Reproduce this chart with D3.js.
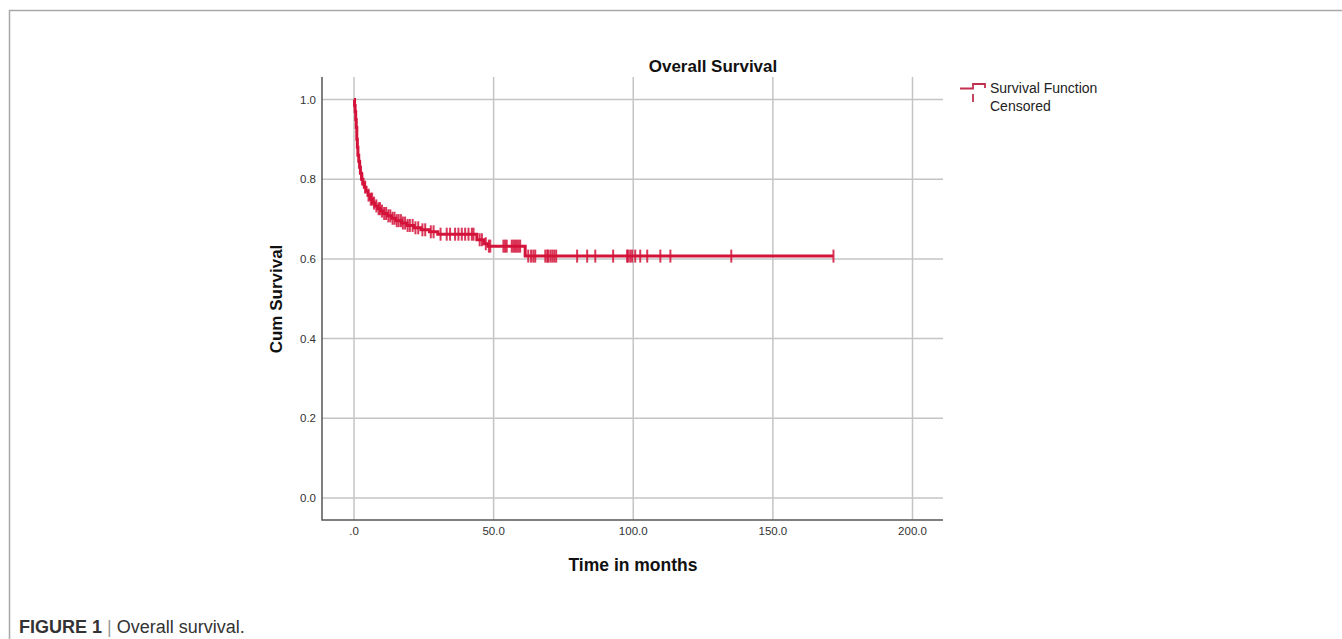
<!DOCTYPE html>
<html>
<head>
<meta charset="utf-8">
<script src="https://cdn.jsdelivr.net/npm/d3@7"></script>
<style>
  body { margin: 0; background: #fff; }
  svg { display: block; font-family: "Liberation Sans", Arial, sans-serif; }
</style>
</head>
<body>
<svg id="chart" width="1342" height="639"></svg>
<script>
// Kaplan-Meier steps: event times (months) and survival after each event
const eventTimes = [0, 0.2, 0.4, 0.6, 0.8, 1.0, 1.2, 1.4, 1.7, 2.0, 2.3, 2.7, 3.2, 3.7, 4.3, 5.0, 5.8, 6.6, 7.5, 8.5, 9.5, 10.5, 12, 13.5, 15, 17, 19, 21.5, 24, 27, 30, 44, 46.5, 48, 61.3];
const survival = [1.0, 0.985, 0.97, 0.95, 0.93, 0.9, 0.88, 0.86, 0.845, 0.83, 0.815, 0.8, 0.79, 0.78, 0.77, 0.76, 0.75, 0.74, 0.733, 0.726, 0.72, 0.714, 0.708, 0.702, 0.696, 0.69, 0.684, 0.678, 0.673, 0.668, 0.662, 0.648, 0.638, 0.632, 0.607];
const lastFollowUp = 171.7;

// censored observations (months)
const censoredTimes = [2.2, 3.0, 4.0, 5.2, 6.0, 6.5, 7.2, 8.0, 8.8, 9.3, 10.0, 10.8, 11.5, 12.3, 13.0, 13.8, 14.5, 15.3, 16.0, 16.8, 17.5, 18.3, 19.2, 20.0, 21.0, 22.0, 23.0, 24.5, 25.5, 27.5, 28.5, 31.0, 33.2, 34.4, 36.2, 37.4, 38.6, 39.8, 41.0, 42.2, 42.8, 45.0, 45.8, 47.2, 48.3, 48.8, 53.5, 54.1, 54.7, 56.5, 57.1, 57.7, 58.3, 58.9, 59.5, 62.4, 63.4, 64.2, 64.9, 68.5, 69.2, 69.5, 70.3, 71.0, 71.7, 72.4, 79.9, 83.5, 86.4, 92.8, 97.8, 98.1, 98.9, 99.6, 100.7, 102.5, 105.0, 109.7, 113.3, 135.1, 171.7];

const xTicks = [0, 50, 100, 150, 200];
const xTickLabels = [".0", "50.0", "100.0", "150.0", "200.0"];
const yTicks = [0, 0.2, 0.4, 0.6, 0.8, 1.0];

const red = "#d4133b";
const gridColor = "#c4c4c4";
const axisColor = "#555";

const svg = d3.select("#chart");

const plot = { left: 322, right: 943, top: 77, bottom: 520 };

const x = d3.scaleLinear().domain([0, 200]).range([354, 912.5]);
const y = d3.scaleLinear().domain([0, 1]).range([498, 99.5]);

// figure frame
svg.append("path")
  .attr("d", "M9.5,639 V10.5 H1342")
  .attr("fill", "none")
  .attr("stroke", "#a8a8a8")
  .attr("stroke-width", 1.5);

// gridlines
svg.append("g")
  .selectAll("line")
  .data(yTicks)
  .join("line")
  .attr("x1", plot.left)
  .attr("x2", plot.right)
  .attr("y1", d => y(d))
  .attr("y2", d => y(d))
  .attr("stroke", gridColor)
  .attr("stroke-width", 1.5);

svg.append("g")
  .selectAll("line")
  .data(xTicks)
  .join("line")
  .attr("x1", d => x(d))
  .attr("x2", d => x(d))
  .attr("y1", plot.top)
  .attr("y2", plot.bottom)
  .attr("stroke", gridColor)
  .attr("stroke-width", 1.5);

// axis lines
svg.append("path")
  .attr("d", `M${plot.left},${plot.top} V${plot.bottom} H${plot.right}`)
  .attr("fill", "none")
  .attr("stroke", axisColor)
  .attr("stroke-width", 1.5);

// tick labels
svg.append("g")
  .selectAll("text")
  .data(yTicks)
  .join("text")
  .attr("x", 316)
  .attr("y", d => y(d) + 4)
  .attr("text-anchor", "end")
  .attr("font-size", 11.5)
  .attr("fill", "#333")
  .text(d => d.toFixed(1));

svg.append("g")
  .selectAll("text")
  .data(xTicks)
  .join("text")
  .attr("x", d => x(d))
  .attr("y", 535)
  .attr("text-anchor", "middle")
  .attr("font-size", 11.5)
  .attr("fill", "#333")
  .text((d, i) => xTickLabels[i]);

// axis titles
svg.append("text")
  .attr("x", 633)
  .attr("y", 571)
  .attr("text-anchor", "middle")
  .attr("font-size", 17.5)
  .attr("font-weight", "bold")
  .attr("fill", "#111")
  .text("Time in months");

svg.append("text")
  .attr("transform", "translate(282,299) rotate(-90)")
  .attr("text-anchor", "middle")
  .attr("font-size", 17)
  .attr("font-weight", "bold")
  .attr("fill", "#111")
  .text("Cum Survival");

svg.append("text")
  .attr("x", 713)
  .attr("y", 72)
  .attr("text-anchor", "middle")
  .attr("font-size", 17)
  .attr("font-weight", "bold")
  .attr("fill", "#111")
  .text("Overall Survival");

// survival curve
const steps = eventTimes.map((t, i) => [t, survival[i]]);
steps.push([lastFollowUp, survival[survival.length - 1]]);

const line = d3.line()
  .x(d => x(d[0]))
  .y(d => y(d[1]))
  .curve(d3.curveStepAfter);

svg.append("path")
  .datum(steps)
  .attr("d", line)
  .attr("fill", "none")
  .attr("stroke", red)
  .attr("stroke-width", 3);

const bisect = d3.bisector(d => d).right;
const survivalAt = t => survival[Math.max(0, bisect(eventTimes, t) - 1)];

svg.append("g")
  .selectAll("line")
  .data(censoredTimes)
  .join("line")
  .attr("x1", d => x(d))
  .attr("x2", d => x(d))
  .attr("y1", d => y(survivalAt(d)) - 6.5)
  .attr("y2", d => y(survivalAt(d)) + 6.5)
  .attr("stroke", red)
  .attr("stroke-opacity", 0.85)
  .attr("stroke-width", 2);

// legend
const legend = svg.append("g");
legend.append("path")
  .attr("d", "M960,88.5 H973 V84 H985 V88")
  .attr("fill", "none")
  .attr("stroke", "#c0304f")
  .attr("stroke-width", 1.8);
legend.append("line")
  .attr("x1", 973).attr("x2", 973)
  .attr("y1", 94).attr("y2", 102)
  .attr("stroke", "#c0304f")
  .attr("stroke-width", 1.8);
legend.append("text")
  .attr("x", 990).attr("y", 93)
  .attr("font-size", 14)
  .attr("fill", "#222")
  .text("Survival Function");
legend.append("text")
  .attr("x", 990).attr("y", 111)
  .attr("font-size", 14)
  .attr("fill", "#222")
  .text("Censored");

// caption
const caption = svg.append("text")
  .attr("x", 19)
  .attr("y", 633)
  .attr("font-size", 18)
  .attr("fill", "#333");
caption.append("tspan").attr("font-weight", "bold").text("FIGURE 1");
caption.append("tspan").attr("fill", "#999").text(" | ");
caption.append("tspan").text("Overall survival.");
</script>
</body>
</html>
